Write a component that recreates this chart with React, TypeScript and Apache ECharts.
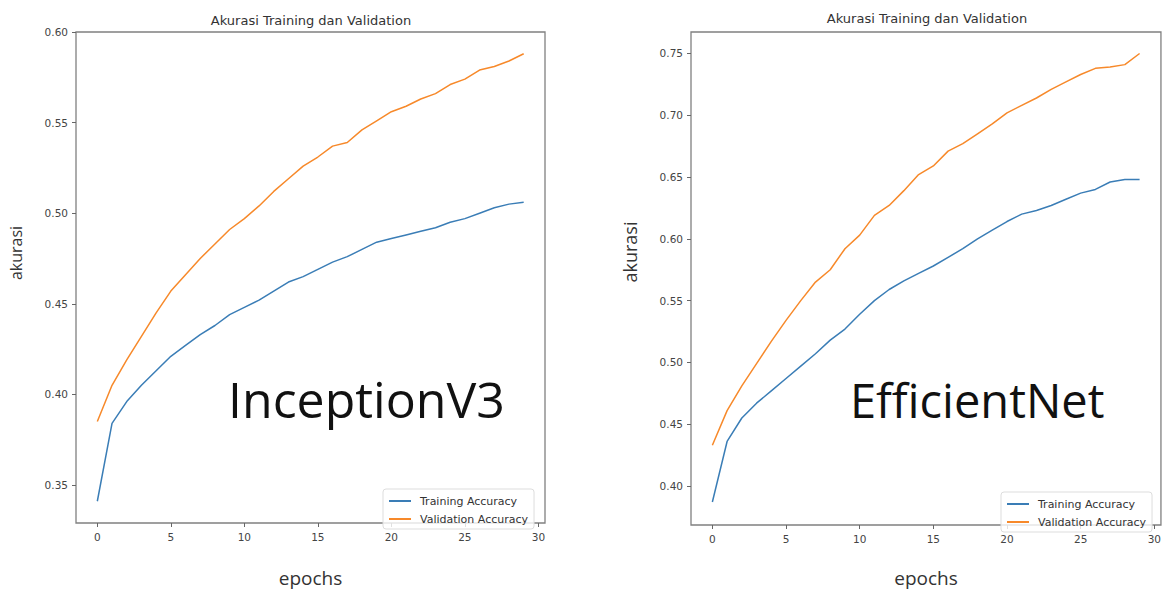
import React, { useEffect, useRef } from "react";
import * as echarts from "echarts";

const epochs = [0, 1, 2, 3, 4, 5, 6, 7, 8, 9, 10, 11, 12, 13, 14, 15, 16, 17, 18, 19, 20, 21, 22, 23, 24, 25, 26, 27, 28, 29];

const inceptionTrain = [
  0.341, 0.384, 0.396, 0.405, 0.413, 0.421, 0.427, 0.433, 0.438, 0.444,
  0.448, 0.452, 0.457, 0.462, 0.465, 0.469, 0.473, 0.476, 0.480, 0.484,
  0.486, 0.488, 0.490, 0.492, 0.495, 0.497, 0.500, 0.503, 0.505, 0.506,
];
const inceptionVal = [
  0.385, 0.405, 0.419, 0.432, 0.445, 0.457, 0.466, 0.475, 0.483, 0.491,
  0.497, 0.504, 0.512, 0.519, 0.526, 0.531, 0.537, 0.539, 0.546, 0.551,
  0.556, 0.559, 0.563, 0.566, 0.571, 0.574, 0.579, 0.581, 0.584, 0.588,
];
const effTrain = [
  0.387, 0.436, 0.455, 0.467, 0.477, 0.487, 0.497, 0.507, 0.518, 0.527,
  0.539, 0.550, 0.559, 0.566, 0.572, 0.578, 0.585, 0.592, 0.600, 0.607,
  0.614, 0.620, 0.623, 0.627, 0.632, 0.637, 0.640, 0.646, 0.648, 0.648,
];
const effVal = [
  0.433, 0.461, 0.481, 0.499, 0.517, 0.534, 0.550, 0.565, 0.575, 0.592,
  0.603, 0.619, 0.627, 0.639, 0.652, 0.659, 0.671, 0.677, 0.685, 0.693,
  0.702, 0.708, 0.714, 0.721, 0.727, 0.733, 0.738, 0.739, 0.741, 0.750,
];

const xTicks = [0, 5, 10, 15, 20, 25, 30];
const yTicksLeft = [0.35, 0.4, 0.45, 0.5, 0.55, 0.6];
const yTicksRight = [0.4, 0.45, 0.5, 0.55, 0.6, 0.65, 0.7, 0.75];

const TITLE = "Akurasi Training dan Validation";
const TRAIN = "Training Accuracy";
const VAL = "Validation Accuracy";

const BLUE = "#3a7db6";
const ORANGE = "#f7892a";
const FONT = "DejaVu Sans";

const pairs = (vals: number[]) => epochs.map((e, i) => [e, vals[i]]);

export default function App() {
  const ref = useRef<HTMLDivElement>(null);

  useEffect(() => {
    if (!ref.current) return;
    const chart = echarts.init(ref.current, null, { renderer: "svg" });

    const xAxisBase = (gridIndex: number, nameGap: number) => ({
      gridIndex,
      type: "value",
      min: -1.45,
      max: 30.45,
      splitLine: { show: false },
      axisLine: { show: false, onZero: false },
      axisTick: { show: true, length: 4, customValues: xTicks, lineStyle: { color: "#666" } },
      axisLabel: { customValues: xTicks, margin: 8, color: "#444", fontSize: 10.5, fontFamily: FONT },
      name: "epochs",
      nameLocation: "middle",
      nameGap,
      nameTextStyle: { fontSize: 19, color: "#333", fontFamily: "Open Sans" },
    });

    const yAxisBase = (gridIndex: number, min: number, max: number, ticks: number[]) => ({
      gridIndex,
      type: "value",
      min,
      max,
      splitLine: { show: false },
      axisLine: { show: false, onZero: false },
      axisTick: { show: true, length: 4, customValues: ticks, lineStyle: { color: "#666" } },
      axisLabel: {
        customValues: ticks,
        margin: 8,
        color: "#444",
        fontSize: 10.5,
        fontFamily: FONT,
        formatter: (v: number) => v.toFixed(2),
      },
    });

    const legendBase = (left: number, top: number) => ({
      left,
      top,
      orient: "vertical",
      data: [TRAIN, VAL],
      icon: "rect",
      itemWidth: 22,
      itemHeight: 2,
      itemGap: 4,
      padding: [5, 6, 3, 6],
      borderColor: "#dddddd",
      borderWidth: 1,
      borderRadius: 3,
      backgroundColor: "rgba(255,255,255,0.8)",
      textStyle: { fontSize: 11, color: "#333", fontFamily: FONT, lineHeight: 14, padding: [0, 0, 0, 4] },
      selectedMode: false,
    });

    const lineSeries = (name: string, vals: number[], color: string, idx: number) => ({
      name,
      type: "line",
      xAxisIndex: idx,
      yAxisIndex: idx,
      data: pairs(vals),
      symbol: "none",
      showSymbol: false,
      color,
      lineStyle: { color, width: 1.5 },
    });

    chart.setOption({
      animation: false,
      backgroundColor: "#ffffff",
      grid: [
        { left: 76, top: 32, width: 469, height: 503, show: true, borderColor: "#808080", borderWidth: 1.3, backgroundColor: "transparent" },
        { left: 691, top: 32, width: 472, height: 505, show: true, borderColor: "#808080", borderWidth: 1.3, backgroundColor: "transparent" },
      ],
      xAxis: [xAxisBase(0, 45), xAxisBase(1, 43)],
      yAxis: [yAxisBase(0, 0.329, 0.6, yTicksLeft), yAxisBase(1, 0.3684, 0.7674, yTicksRight)],
      legend: [legendBase(383, 489), legendBase(1001, 492)],
      series: [
        lineSeries(TRAIN, inceptionTrain, BLUE, 0),
        lineSeries(VAL, inceptionVal, ORANGE, 0),
        lineSeries(TRAIN, effTrain, BLUE, 1),
        lineSeries(VAL, effVal, ORANGE, 1),
      ],
      graphic: [
        { type: "text", x: 311, y: 20, style: { text: TITLE, fill: "#333", font: `13px '${FONT}'`, textAlign: "center", textVerticalAlign: "middle" } },
        { type: "text", x: 927, y: 18, style: { text: TITLE, fill: "#333", font: `13px '${FONT}'`, textAlign: "center", textVerticalAlign: "middle" } },
        { type: "text", x: 16, y: 253, rotation: Math.PI / 2, style: { text: "akurasi", fill: "#333", font: "16px 'Open Sans'", textAlign: "center", textVerticalAlign: "middle" } },
        { type: "text", x: 630, y: 252, rotation: Math.PI / 2, style: { text: "akurasi", fill: "#333", font: "18px 'Open Sans'", textAlign: "center", textVerticalAlign: "middle" } },
        { type: "text", x: 228, y: 399, style: { text: "InceptionV3", fill: "#111", font: "50px 'Open Sans'", textAlign: "left", textVerticalAlign: "middle" } },
        { type: "text", x: 850, y: 400, style: { text: "EfficientNet", fill: "#111", font: "47px 'Open Sans'", textAlign: "left", textVerticalAlign: "middle" } },
      ],
    });

    return () => chart.dispose();
  }, []);

  return <div ref={ref} style={{ position: "fixed", left: 0, top: 0, width: 1164, height: 592 }} />;
}
